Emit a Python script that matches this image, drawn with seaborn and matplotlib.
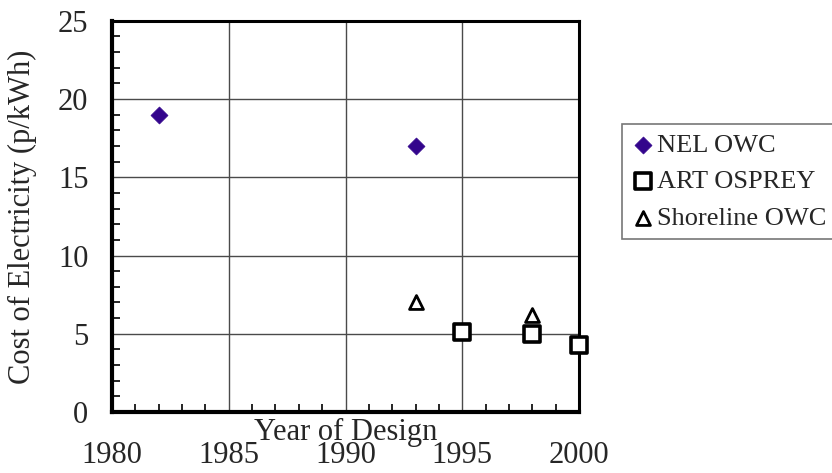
import matplotlib
matplotlib.use('Agg')
import matplotlib.pyplot as plt
from matplotlib.ticker import MultipleLocator
import pandas as pd
import seaborn as sns

# values
nel_year = [1982, 1993]
nel_cost = [19.0, 17.0]
art_year = [1995, 1998, 2000]
art_cost = [5.1, 5.0, 4.3]
shore_year = [1993, 1998]
shore_cost = [7.0, 6.2]

x_ticks = [1980, 1985, 1990, 1995, 2000]
y_ticks = [0, 5, 10, 15, 20, 25]

nel = pd.DataFrame({'year': nel_year, 'cost': nel_cost})
art = pd.DataFrame({'year': art_year, 'cost': art_cost})
shore = pd.DataFrame({'year': shore_year, 'cost': shore_cost})

sns.set_style('white')
plt.rcParams['font.family'] = ['Liberation Serif', 'DejaVu Serif']

fig = plt.figure(figsize=(8.32, 4.73), dpi=100)
ax = fig.add_axes([0.1346, 0.129, 0.5615, 0.827])

sns.scatterplot(data=nel, x='year', y='cost', ax=ax, marker='D', s=75,
                color='#33058c', edgecolor='#33058c', linewidth=0.5,
                label='NEL OWC', zorder=5, clip_on=False)
sns.scatterplot(data=art, x='year', y='cost', ax=ax, marker='s', s=120,
                facecolor='white', edgecolor='black', linewidth=2.6,
                label='ART OSPREY', zorder=5, clip_on=False)
sns.scatterplot(data=shore, x='year', y='cost', ax=ax, marker='^', s=100,
                facecolor='white', edgecolor='black', linewidth=2.0,
                label='Shoreline OWC', zorder=5, clip_on=False)

ax.set_xlim(1980, 2000)
ax.set_ylim(0, 25)
ax.set_xticks(x_ticks)
ax.set_yticks(y_ticks)
ax.xaxis.set_minor_locator(MultipleLocator(1))
ax.yaxis.set_minor_locator(MultipleLocator(1))
ax.tick_params(which='major', length=0, labelsize=22)
ax.tick_params(axis='x', which='major', pad=21)
ax.tick_params(axis='y', which='major', pad=17)
ax.tick_params(which='minor', direction='in', length=6, width=1.2, color='black',
               left=True, bottom=True)
ax.grid(True, which='major', color='#4a4a4a', linewidth=1.0)

for side in ['left', 'bottom']:
    ax.spines[side].set_linewidth(3)
for side in ['top', 'right']:
    ax.spines[side].set_linewidth(2.2)
for s in ax.spines.values():
    s.set_color('black')

ax.set_xlabel('Year of Design', fontsize=22)
ax.xaxis.set_label_coords(0.5, -0.015)
ax.set_ylabel('Cost of Electricity (p/kWh)', fontsize=22)
ax.yaxis.set_label_coords(-0.16, 0.5)

ax.get_legend().remove()
h, l = ax.get_legend_handles_labels()
leg = fig.legend(h, l, loc='upper left', bbox_to_anchor=(0.747, 0.738),
                 fontsize=19, frameon=True, fancybox=False, edgecolor='#555555',
                 handletextpad=0.1, handlelength=0.9, borderpad=0.35,
                 labelspacing=0.5, borderaxespad=0)
leg.get_frame().set_linewidth(1.2)

fig.savefig('out.png', dpi=100)
